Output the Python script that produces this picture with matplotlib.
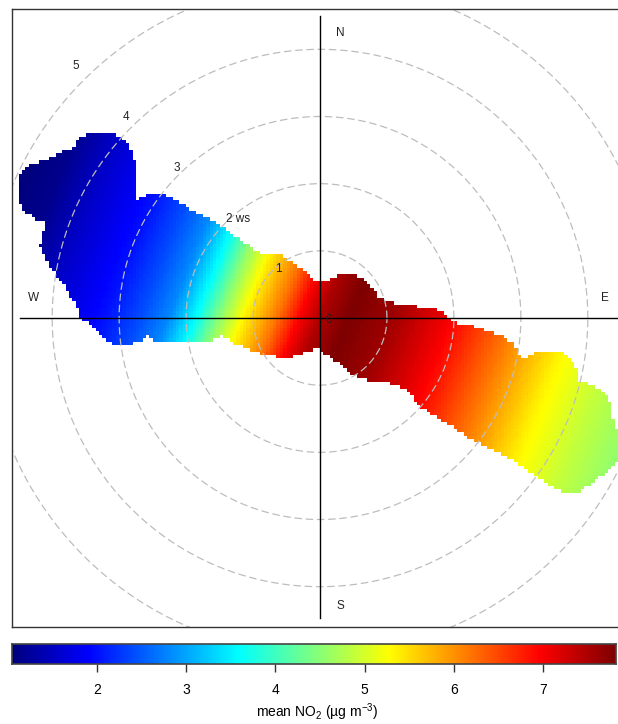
import numpy as np
import matplotlib
matplotlib.use("Agg")
import matplotlib.pyplot as plt
from matplotlib.colors import LinearSegmentedColormap, Normalize
from matplotlib.path import Path

plt.rcParams["font.family"] = ["Liberation Sans", "DejaVu Sans"]
plt.rcParams["mathtext.fontset"] = "custom"
plt.rcParams["mathtext.rm"] = "Liberation Sans"
plt.rcParams["mathtext.it"] = "Liberation Sans:italic"

# mean NO2 along the main WNW-ESE axis (projected distance in ws units)
prof_s = [-4.9, -4.4, -3.9, -3.0, -2.5, -2.1, -1.7, -1.4, -1.05, -0.6, -0.28,
          0.0, 0.4, 1.0, 1.8, 2.7, 3.5, 4.2, 5.0]
prof_no2 = [1.05, 1.15, 1.5, 2.0, 2.4, 2.8, 3.65, 4.5, 5.35, 6.2, 7.0,
            7.5, 7.82, 7.6, 7.0, 6.15, 5.35, 4.9, 4.5]
axis_angle = -22.0  # degrees from east

# outline of the area covered by data (u, v in ws units)
edge_u = [4.43, 4.43, 4.37, 4.33, 4.22, 3.99, 3.88, 3.84, 3.73, 3.58, 3.28, 3.03,
          2.94, 2.88, 2.69, 2.34, 1.99, 1.84, 1.69, 1.19, 0.94, 0.87, 0.78, 0.64,
          0.45, 0.30, 0.15, 0.03, 0.0, -0.10, -0.25, -0.45, -0.60, -0.90, -1.15,
          -1.45, -1.64, -2.04, -2.28, -2.43, -2.64, -2.73, -2.76, -2.75, -2.79,
          -2.94, -3.18, -3.43, -3.61, -3.66, -3.99, -4.33, -4.48, -4.52, -4.43,
          -4.28, -4.07, -4.13, -4.18, -4.07, -3.93, -3.78, -3.63, -3.58, -3.39,
          -3.18, -3.03, -2.73, -2.58, -2.43, -1.64, -1.49, -1.30, -0.94, -0.49,
          -0.10, 0.0, 0.03, 0.30, 0.45, 0.70, 1.04, 1.30, 1.45, 1.64, 1.90, 2.28,
          2.69, 2.94, 3.18, 3.54, 3.84, 4.18, 4.37]
edge_v = [-2.15, -1.67, -1.49, -1.27, -1.07, -0.97, -0.97, -0.78, -0.58, -0.48,
          -0.48, -0.63, -0.51, -0.37, -0.25, -0.13, -0.06, 0.09, 0.16, 0.19, 0.28,
          0.31, 0.45, 0.60, 0.66, 0.66, 0.57, 0.54, 0.52, 0.57, 0.72, 0.84, 0.97,
          0.97, 1.12, 1.36, 1.46, 1.69, 1.81, 1.87, 1.81, 1.76, 1.96, 2.21, 2.46,
          2.69, 2.76, 2.76, 2.66, 2.55, 2.40, 2.28, 2.16, 1.81, 1.61, 1.49, 1.42,
          1.27, 1.06, 0.82, 0.61, 0.42, 0.16, 0.01, -0.13, -0.33, -0.40, -0.37,
          -0.25, -0.36, -0.37, -0.25, -0.37, -0.52, -0.60, -0.48, -0.43, -0.52,
          -0.67, -0.85, -0.93, -0.97, -1.07, -1.27, -1.42, -1.57, -1.82, -2.01,
          -2.16, -2.31, -2.57, -2.61, -2.37, -2.22]

rings = [1, 2, 3, 4, 5]
ring_labels = ["0", "1", "2 ws", "3", "4", "5"]
cbar_ticks = [2, 3, 4, 5, 6, 7]
no2_min, no2_max = 1.047, 7.82

jet = LinearSegmentedColormap.from_list(
    "openair_jet",
    ["#00007F", "#0000FF", "#007FFF", "#00FFFF", "#7FFF7F",
     "#FFFF00", "#FF7F00", "#FF0000", "#7F0000"])
norm = Normalize(no2_min, no2_max)

fig = plt.figure(figsize=(6.18, 7.24), dpi=100)
lim = 4.6
ax = fig.add_axes([12 / 618, 97 / 724, 616 / 618, 618 / 724])
ax.set_xlim(-lim, lim)
ax.set_ylim(-lim, lim)
ax.set_xticks([])
ax.set_yticks([])
for sp in ax.spines.values():
    sp.set_color("#333333")
    sp.set_linewidth(1.0)

# surface on a fine grid, masked outside the data area
step = 0.05
edges = np.arange(-lim, lim + step / 2, step)
cen = (edges[:-1] + edges[1:]) / 2
U, V = np.meshgrid(cen, cen)
a = np.deg2rad(axis_angle)
S = U * np.cos(a) + V * np.sin(a)
Z = np.interp(S, prof_s, prof_no2)
outline = Path(np.column_stack([edge_u, edge_v]))
inside = outline.contains_points(np.column_stack([U.ravel(), V.ravel()])).reshape(U.shape)
Z = np.ma.masked_where(~inside, Z)
ax.pcolormesh(edges, edges, Z, cmap=jet, norm=norm, shading="flat", zorder=1)

# rings and labels
th = np.linspace(0, 2 * np.pi, 400)
for r in rings:
    ax.plot(r * np.cos(th), r * np.sin(th), color="#BDBDBD", lw=0.9,
            ls=(0, (6, 3)), zorder=2)
for k, lab in enumerate(ring_labels):
    x = 0.13 - 0.755 * k
    y = -0.03 + 0.755 * k
    if lab.endswith("ws"):
        x += 0.16
    ax.text(x, y, lab, ha="center", va="center", fontsize=8.5, color="#222222", zorder=4)

ax.plot([-4.48, 4.48], [0, 0], color="black", lw=1.0, zorder=3)
ax.plot([0, 0], [-4.46, 4.49], color="black", lw=1.0, zorder=3)
for lab, x, y in [("N", 0.3, 4.25), ("S", 0.3, -4.28), ("W", -4.28, 0.30), ("E", 4.25, 0.30)]:
    ax.text(x, y, lab, ha="center", va="center", fontsize=8.5, color="#222222", zorder=4)

# colour key
cax = fig.add_axes([12 / 618, 60 / 724, 604 / 618, 20 / 724])
grad = np.linspace(no2_min, no2_max, 512).reshape(1, -1)
cax.imshow(grad, aspect="auto", cmap=jet, norm=norm,
           extent=[no2_min, no2_max, 0, 1])
cax.set_xlim(no2_min, no2_max)
cax.set_yticks([])
cax.set_xticks(cbar_ticks)
cax.tick_params(axis="x", length=6, width=1, labelsize=10, pad=8, color="#333333")
for sp in cax.spines.values():
    sp.set_color("#444444")
    sp.set_linewidth(1.2)
fig.text(317 / 618, 1 - 712 / 724, "mean NO$_2$ (µg m$^{-3}$)", ha="center",
         va="center", fontsize=10)

fig.savefig("out.png", dpi=100)
